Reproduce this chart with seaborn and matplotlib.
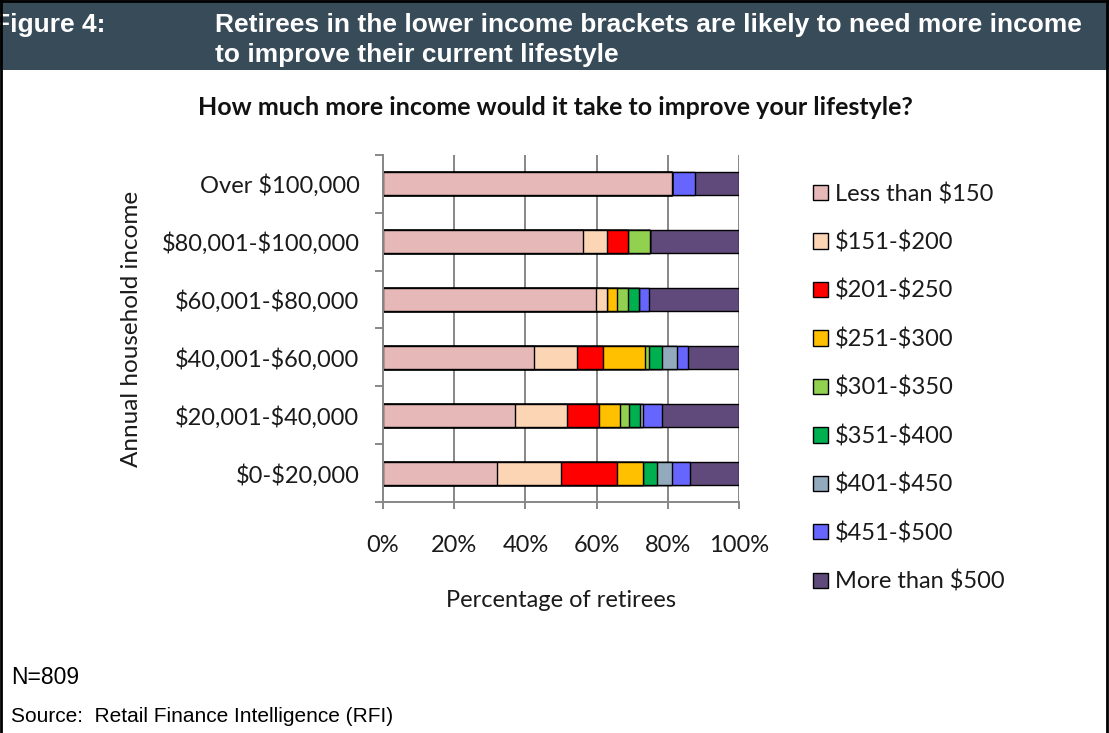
import numpy as np
import pandas as pd
import matplotlib
matplotlib.use("Agg")
import matplotlib.pyplot as plt
from matplotlib.patches import Patch, Rectangle
from matplotlib.lines import Line2D
import seaborn as sns

# Annual household income groups (top to bottom)
incomes = ["Over $100,000", "$80,001-$100,000", "$60,001-$80,000",
           "$40,001-$60,000", "$20,001-$40,000", "$0-$20,000"]

# Extra monthly income needed, share of retirees (%)
brackets = ["Less than $150", "$151-$200", "$201-$250", "$251-$300",
            "$301-$350", "$351-$400", "$401-$450", "$451-$500",
            "More than $500"]
less_150 = [81.3, 56.2, 59.7, 42.5, 37.0, 31.9]
s151_200 = [0.0, 6.7, 3.2, 11.9, 14.6, 18.1]
s201_250 = [0.0, 5.8, 0.0, 7.5, 9.0, 15.7]
s251_300 = [0.0, 0.0, 2.9, 11.8, 6.1, 7.4]
s301_350 = [0.0, 6.3, 2.9, 1.1, 2.5, 0.0]
s351_400 = [0.0, 0.0, 3.1, 3.5, 2.9, 3.9]
s401_450 = [0.0, 0.0, 0.0, 4.2, 1.0, 4.1]
s451_500 = [6.3, 0.0, 2.8, 3.2, 5.3, 5.1]
more_500 = [12.4, 25.0, 25.4, 14.3, 21.6, 13.8]

colors = ["#E6B9B8", "#FCD5B5", "#FF0000", "#FFC000", "#92D050",
          "#00B050", "#93A9BC", "#6666FF", "#604A7B"]

x_ticks = [0, 20, 40, 60, 80, 100]
x_tick_labels = ["0%", "20%", "40%", "60%", "80%", "100%"]

series = [less_150, s151_200, s201_250, s251_300, s301_350,
          s351_400, s401_450, s451_500, more_500]

df = pd.DataFrame({"income": incomes})
for name, vals in zip(brackets, series):
    df[name] = vals
cum = df[brackets].cumsum(axis=1)
cum.columns = ["cum_" + b for b in brackets]
df = pd.concat([df, cum], axis=1)

sns.set_theme(style="white")
chart_font = ["Lato", "DejaVu Sans"]
plt.rcParams["font.family"] = chart_font
plt.rcParams["text.parse_math"] = False

W, H = 1109, 733
fig = plt.figure(figsize=(W / 100, H / 100), dpi=100)
fig.patch.set_facecolor("white")

def fx(px):
    return px / W

def fy(py):
    return 1 - py / H

ax = fig.add_axes([fx(383), fy(502), fx(739) - fx(383), fy(155) - fy(502)])

# Stacked bars: draw cumulative totals from the outermost segment inward
for name, col in reversed(list(zip(brackets, colors))):
    sns.barplot(data=df, x="cum_" + name, y="income", order=incomes,
                orient="h", color=col, saturation=1, width=0.4,
                edgecolor="black", linewidth=1.0, errorbar=None,
                ax=ax, zorder=3)

ax.set_xlim(0, 100)
ax.set_ylim(5.5, -0.5)
ax.set_xticks(x_ticks)
ax.set_xticklabels(x_tick_labels)
ax.set_xlabel("Percentage of retirees", fontsize=17, labelpad=24,
              color="#1a1a1a")
ax.set_ylabel("Annual household income", fontsize=17.5, labelpad=14,
              color="#1a1a1a")

ax.grid(False)
for xv in x_ticks:
    ax.axvline(xv, color="#878787", lw=1.4, zorder=1)

ax.tick_params(axis="x", which="major", length=5, width=1.4,
               color="#878787", direction="out", bottom=True,
               labelsize=17, pad=19, labelcolor="#1a1a1a")
ax.tick_params(axis="y", which="major", length=0, labelsize=17, pad=17,
               labelcolor="#1a1a1a")
ax.set_yticks(np.arange(-0.5, 6.0, 1.0), minor=True)
ax.tick_params(axis="y", which="minor", length=5.5, width=1.4,
               color="#878787", direction="out", left=True)

for side in ["top", "right"]:
    ax.spines[side].set_visible(False)
for side in ["left", "bottom"]:
    ax.spines[side].set_color("#878787")
    ax.spines[side].set_linewidth(1.4)
    ax.spines[side].set_zorder(4)

ax.set_title("How much more income would it take to improve your lifestyle?",
             fontsize=18, fontweight="bold", color="#111111",
             x=fx(555 - 383) / (fx(739) - fx(383)), pad=29)

# Legend on the right
handles = [Patch(facecolor=c, edgecolor="black", linewidth=1.0) for c in colors]
fig.legend(handles, brackets, loc="upper left",
           bbox_to_anchor=(fx(813), fy(183)), frameon=False,
           fontsize=17, handlelength=0.64, handleheight=0.62,
           handletextpad=0.3, labelspacing=1.12, labelcolor="#1a1a1a",
           borderaxespad=0, borderpad=0)

# Header band
fig.add_artist(Rectangle((0, fy(70)), 1, fy(0) - fy(70),
                         transform=fig.transFigure, facecolor="#384B59",
                         edgecolor="none", zorder=0))
head_font = ["Liberation Sans", "DejaVu Sans"]
fig.text(fx(-6), fy(25), "Figure 4:", fontsize=19, fontweight="bold",
         color="white", family=head_font, va="center", ha="left")
fig.text(fx(215), fy(25),
         "Retirees in the lower income brackets are likely to need more income",
         fontsize=19, fontweight="bold", color="white", family=head_font,
         va="center", ha="left")
fig.text(fx(215), fy(55), "to improve their current lifestyle",
         fontsize=19, fontweight="bold", color="white", family=head_font,
         va="center", ha="left")

# Footnotes
foot_font = ["Liberation Sans", "DejaVu Sans"]
fig.text(fx(11), fy(677), "N=809", fontsize=16.5, color="black",
         family=foot_font, va="center", ha="left")
fig.text(fx(11), fy(717), "Source:  Retail Finance Intelligence (RFI)",
         fontsize=15, color="black", family=foot_font, va="center",
         ha="left")

# Frame
for seg in [((fx(1), fx(1)), (0, 1)), ((fx(1107), fx(1107)), (0, 1)),
            ((0, 1), (fy(1), fy(1)))]:
    fig.add_artist(Line2D(seg[0], seg[1], transform=fig.transFigure,
                          color="black", lw=2, zorder=5))

fig.savefig("out.png", dpi=100, facecolor="white")
